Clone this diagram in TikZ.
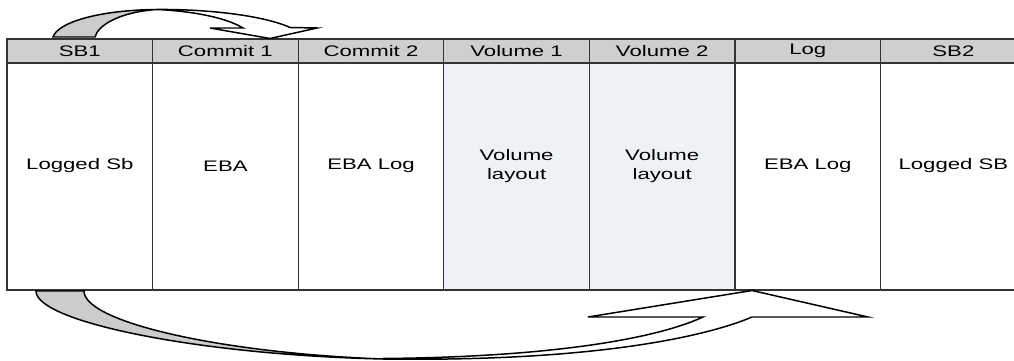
\documentclass[tikz,border=0pt]{standalone}
\usepackage{fontspec}
\newfontfamily\cellfont[FakeStretch=1.45]{Liberation Sans}

\definecolor{hdrgray}{HTML}{CFCFCF}
\definecolor{volblue}{HTML}{EEF1F6}
\definecolor{gridline}{HTML}{333333}
\definecolor{ribbongray}{HTML}{CCCCCC}

\begin{document}
\begin{tikzpicture}[
    x=0.02cm, y=-0.02cm,
    every node/.style={font=\cellfont\fontsize{8.7}{10.5}\selectfont},
    hdr/.style={draw=gridline, fill=hdrgray, line width=0.7pt, inner sep=0pt, outer sep=0pt,
      minimum width=2.912cm, minimum height=0.48cm, anchor=north west},
    cell/.style={draw=gridline, line width=0.7pt, inner sep=0pt, outer sep=0pt,
      minimum width=2.912cm, minimum height=4.54cm, anchor=north west},
    ribbon/.style={draw=black, line width=0.85pt, line join=miter}
  ]
  \path[use as bounding box, clip] (0,0) rectangle (1014,361);

  % disk layout: header row and body row
  \foreach \hd/\bd/\fc [count=\i] in {SB1/Logged Sb/white, Commit 1/EBA/white,
      Commit 2/EBA Log/white, Volume 1/Volume\\layout/volblue,
      Volume 2/Volume\\layout/volblue, Log/EBA Log/white, SB2/Logged SB/white}
  {
    \node[cell, fill=\fc] (b\i) at ({7+145.6*(\i-1)},63) {};
    \node[hdr] (h\i) at ({7+145.6*(\i-1)},39) {\hd};
    \node[align=center] (t\i) at ({79.8+145.6*(\i-1)},166) {\bd};
  }

  % upper curved arrow, SB1 -> Commit 1
  \filldraw[ribbon, fill=ribbongray] (53,37) .. controls (58,22) and (100,10) .. (157,9.5)
    .. controls (120,12) and (98,25) .. (95,37) -- cycle;
  \filldraw[ribbon, fill=white] (157,9.5) .. controls (210,9) and (265,16) .. (290,27.5)
    -- (317,28) -- (270,38.5) -- (210,28) -- (243,28)
    .. controls (225,17) and (190,11) .. (157,9.5) -- cycle;

  % lower curved arrow, SB1 -> Log
  \filldraw[ribbon, fill=ribbongray] (36,291) .. controls (36,322) and (200,355) .. (383,359)
    .. controls (220,353) and (84,322) .. (84,291) -- cycle;
  \filldraw[ribbon, fill=white] (383,359) .. controls (600,362) and (710,335) .. (752,317)
    -- (868,317) -- (752,290.5) -- (588,317) -- (703,317)
    .. controls (660,337) and (560,357) .. (383,358.5) -- cycle;
\end{tikzpicture}
\end{document}
